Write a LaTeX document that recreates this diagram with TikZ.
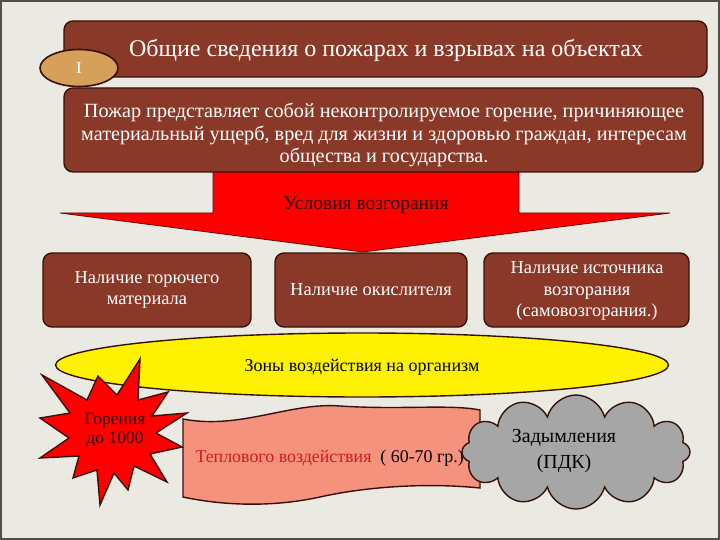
\documentclass[tikz,border=0pt]{standalone}
\usepackage{fontspec}
\setmainfont{Liberation Serif}
\usetikzlibrary{shapes.geometric,shapes.symbols}
\definecolor{bg}{RGB}{234,233,226}
\definecolor{frame}{RGB}{80,80,72}
\definecolor{brownbox}{RGB}{138,56,40}
\definecolor{browndark}{RGB}{55,18,12}
\definecolor{tan}{RGB}{214,160,90}
\definecolor{arrowred}{RGB}{255,0,0}
\definecolor{salmon}{RGB}{244,146,126}
\definecolor{textred}{RGB}{215,25,25}
\definecolor{cloudgray}{RGB}{166,166,166}
\definecolor{darktext}{RGB}{50,10,8}
\tikzset{
  brownrect/.style={draw=browndark, line width=1.4pt, fill=brownbox, rounded corners=9pt},
  whitetext/.style={text=white, align=center},
}
\begin{document}
\begin{tikzpicture}[x=1pt,y=-1pt]
\useasboundingbox (0,0) rectangle (720,540);
\fill[bg] (0,0) rectangle (720,540);
\draw[frame, line width=2pt] (1,1) rectangle (719,539);
% title
\draw[brownrect] (64,21) rectangle (707,77);
\node[whitetext, font=\fontsize{24}{28}\selectfont] (title) at (386,50) {Общие сведения о пожарах и взрывах на объектах};
\node[ellipse, draw=browndark, line width=1.6pt, fill=tan, minimum width=78pt, minimum height=37pt, text=white, font=\fontsize{17}{20}\selectfont] (num) at (79,68) {I};
% arrow
\draw[draw=browndark!80!red, line width=0.8pt, fill=arrowred] (213,165) -- (519,165) -- (519,213) -- (670,213) -- (363,252) -- (60,213) -- (213,213) -- cycle;
\node[text=darktext, font=\fontsize{19.5}{22}\selectfont] (cond) at (366,205) {Условия возгорания};
% definition
\draw[brownrect] (64,88) rectangle (703,172);
\node[whitetext, font=\fontsize{20.2}{22.7}\selectfont] (def) at (384,135) {Пожар представляет собой неконтролируемое горение, причиняющее\\материальный ущерб, вред для жизни и здоровью граждан, интересам\\общества и государства.};
% three boxes
\draw[brownrect] (43,253) rectangle (251,327);
\node[whitetext, font=\fontsize{18.4}{21.5}\selectfont] (b1) at (147,290) {Наличие горючего\\материала};
\draw[brownrect] (275,253) rectangle (467,327);
\node[whitetext, font=\fontsize{18.4}{21.5}\selectfont] (b2) at (371,290) {Наличие окислителя};
\draw[brownrect] (484,253) rectangle (689,327);
\node[whitetext, font=\fontsize{18.4}{21.5}\selectfont] (b3) at (587,291) {Наличие источника\\возгорания\\(самовозгорания.)};
% yellow ellipse
\node[ellipse, draw=browndark, line width=1.4pt, fill=yellow, minimum width=613pt, minimum height=64pt] (zone) at (362,365) {};
\node[font=\fontsize{18}{21}\selectfont] (zonet) at (362,367) {Зоны воздействия на организм};
% banner
\draw[draw=browndark, line width=1.4pt, fill=salmon] (183,419) .. controls (240,430) and (290,402) .. (340,406) .. controls (400,410) and (450,404) .. (480,410) -- (480,488) .. controls (420,482) and (360,488) .. (320,497) .. controls (270,508) and (220,505) .. (183,497) -- cycle;
\node[anchor=west, font=\fontsize{17.9}{21}\selectfont] (heat) at (192,458) {\textcolor{textred}{Теплового воздействия}\ \ ( 60-70 гр.)};
% star
\draw[draw=browndark, line width=1.4pt, fill=arrowred] (42,375) -- (87,400) -- (98,376) -- (117,395) -- (140,359) -- (138,400) -- (168,392) -- (152,416) -- (187,413) -- (156,433) -- (182,447) -- (150,454) -- (167,482) -- (134,466) -- (128,490) -- (114,473) -- (100,505) -- (97,470) -- (73,478) -- (79,456) -- (40,458) -- (69,438) -- (40,418) -- (70,413) -- cycle;
\node[text=darktext, align=center, font=\fontsize{17.5}{19}\selectfont] (burn) at (115,430) {Горения\\до 1000};
% cloud
\node[cloud, cloud puffs=12, aspect=1.9, draw=browndark, line width=1.4pt, fill=cloudgray, minimum width=228pt, minimum height=114pt] (smoke) at (576,452) {};
\node[align=center, font=\fontsize{19.9}{26}\selectfont] (smoket) at (564,451) {Задымления\\(ПДК)};
\end{tikzpicture}
\end{document}
